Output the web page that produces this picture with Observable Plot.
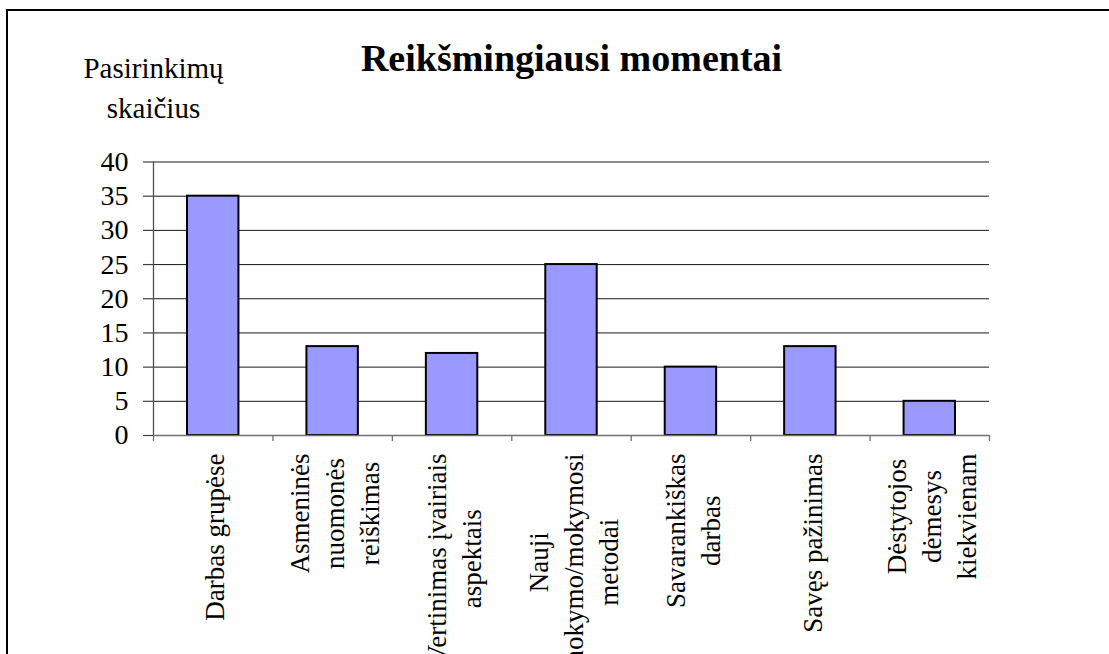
<!DOCTYPE html>
<html>
<head>
<meta charset="utf-8">
<script src="https://cdn.jsdelivr.net/npm/d3@7"></script>
<script src="https://cdn.jsdelivr.net/npm/@observablehq/plot@0.6"></script>
<style>
  html, body { margin: 0; padding: 0; background: #fff; overflow: hidden; }
  #wrap { position: relative; width: 1109px; height: 654px; overflow: hidden; }
  #frame { position: absolute; left: 6px; top: 9px; width: 2000px; height: 2000px;
           border-left: 2.5px solid #000; border-top: 2.5px solid #000; pointer-events: none; }
  svg text { font-family: "Liberation Serif", "Times New Roman", serif; }
</style>
</head>
<body>
<div id="wrap"><div id="frame"></div></div>
<script>
const title = "Reikšmingiausi momentai";
const yLabel = "Pasirinkimų\nskaičius";
const categories = [
  "Darbas grupėse",
  "Asmeninės\nnuomonės\nreiškimas",
  "Vertinimas įvairiais\naspektais",
  "Nauji\nmokymo/mokymosi\nmetodai",
  "Savarankiškas\ndarbas",
  "Savęs pažinimas",
  "Dėstytojos\ndėmesys\nkiekvienam"
];
const values = [35, 13, 12, 25, 10, 13, 5];
const yTicks = [0, 5, 10, 15, 20, 25, 30, 35, 40];
const yGrid = [5, 10, 15, 20, 25, 30, 35, 40];

const data = categories.map((c, i) => ({i, category: c, value: values[i]}));
const xTicks = d3.range(categories.length + 1);

const FONT = "Liberation Serif";
const labelSize = 27;
const ctx = document.createElement("canvas").getContext("2d");
ctx.font = `${labelSize}px 'Liberation Serif'`;
const labelWidth = c => d3.max(c.split("\n"), l => ctx.measureText(l).width);

const labelMarks = data.map(d =>
  Plot.text([d], {
    x: v => v.i + 0.5,
    y: () => 0,
    text: "category",
    rotate: -90,
    textAnchor: "middle",
    lineAnchor: "middle",
    lineHeight: 1.3,
    fontSize: labelSize,
    fontFamily: FONT,
    fill: "#000",
    dy: 18 + labelWidth(d.category) / 2
  })
);

const chart = Plot.plot({
  width: 1109,
  height: 654,
  marginLeft: 153,
  marginRight: 120,
  marginTop: 161.5,
  marginBottom: 219,
  style: {fontFamily: FONT, fontSize: "28px", background: "transparent", overflow: "visible", color: "#000"},
  x: {type: "linear", domain: [0, categories.length], axis: null, label: null},
  y: {domain: [0, 40], axis: null, label: null},
  marks: [
    Plot.gridY(yGrid, {stroke: "#000", strokeOpacity: 0.9, strokeWidth: 1}),
    Plot.rectY(data, {x1: "i", x2: d => d.i + 1, y: "value", insetLeft: 34, insetRight: 34,
      fill: "#9999ff", stroke: "#000", strokeWidth: 2}),
    Plot.ruleY([0], {stroke: "#707070", strokeWidth: 1.3}),
    Plot.ruleX([0], {y1: 0, y2: 40, stroke: "#505050", strokeWidth: 1.3}),
    Plot.axisX(xTicks, {tickSize: 6, tickFormat: () => "", label: null, stroke: "#707070", strokeWidth: 1.3, strokeOpacity: 1}),
    Plot.axisY(yTicks, {tickSize: 10, tickPadding: 15, fontSize: 28, fontFamily: FONT, label: null, stroke: "#404040", strokeWidth: 1.2,
      strokeOpacity: 1, fill: "#000"}),
    ...labelMarks,
    Plot.text([title], {frameAnchor: "top", dy: -91, lineAnchor: "bottom", textAnchor: "middle",
      fontSize: 38, fontWeight: "bold", fontFamily: FONT, fill: "#000"}),
    Plot.text([yLabel], {frameAnchor: "top-left", dy: -44, lineAnchor: "bottom", textAnchor: "middle",
      fontSize: 29, lineHeight: 1.38, fontFamily: FONT, fill: "#000"})
  ]
});
chart.style.position = "absolute";
chart.style.left = "0px";
chart.style.top = "0px";
document.getElementById("wrap").prepend(chart);
</script>
</body>
</html>
